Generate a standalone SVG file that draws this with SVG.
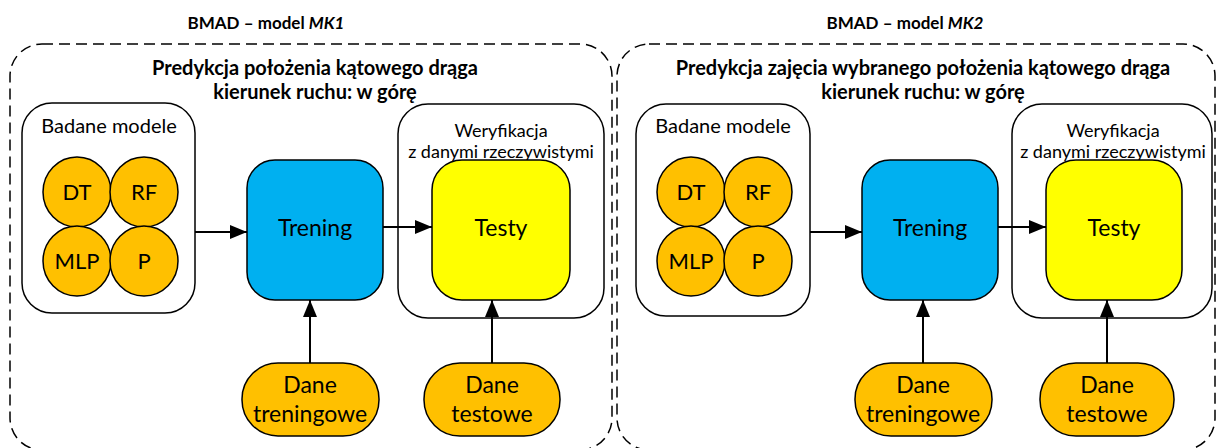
<svg xmlns="http://www.w3.org/2000/svg" width="1219" height="448" viewBox="0 0 1219 448">
  <defs>
    <marker id="arrow" markerWidth="17" markerHeight="14" refX="17" refY="7" orient="auto" markerUnits="userSpaceOnUse">
      <path d="M0,0 L17,7 L0,14 Z" fill="#000"/>
    </marker>
    <style>
      text { font-family: Lato, "Open Sans", "Liberation Sans", sans-serif; fill: #000; text-anchor: middle; }
      .title { font-size: 17px; font-weight: bold; }
      .head { font-size: 20px; font-weight: bold; }
      .lbl { font-size: 20px; }
      .circ { font-size: 22px; }
      .small { font-size: 18px; }
      .big { font-size: 23px; }
      .panel { fill: none; stroke: #000; stroke-width: 1.5; stroke-dasharray: 11 6; }
      .group { fill: #fff; stroke: #000; stroke-width: 1.5; }
      .model { fill: #FFC000; stroke: #000; stroke-width: 1.5; }
      .train { fill: #00B0F0; stroke: #000; stroke-width: 1.5; }
      .test { fill: #FFFF00; stroke: #000; stroke-width: 1.5; }
      .data { fill: #FFC000; stroke: #000; stroke-width: 1.5; }
      .conn { stroke: #000; stroke-width: 2; fill: none; marker-end: url(#arrow); }
    </style>
  </defs>
  <rect width="1219" height="448" fill="#fff"/>

  <!-- panel MK1 -->
  <g id="panel-mk1">
    <text class="title" x="266" y="29">BMAD – model <tspan font-style="italic">MK1</tspan></text>
    <rect class="panel" x="10" y="44" width="602" height="406" rx="32"/>
    <text class="head" x="315" y="75">Predykcja położenia kątowego drąga</text>
    <text class="head" x="315" y="99">kierunek ruchu: w górę</text>
  </g>

  <!-- panel MK2 -->
  <g id="panel-mk2">
    <text class="title" x="905" y="29">BMAD – model <tspan font-style="italic">MK2</tspan></text>
    <rect class="panel" x="617" y="44" width="598" height="406" rx="32"/>
    <text class="head" x="923" y="75">Predykcja zajęcia wybranego położenia kątowego drąga</text>
    <text class="head" x="923" y="99">kierunek ruchu: w górę</text>
  </g>

  <!-- MK1 nodes -->
  <g id="models-1">
    <rect class="group" x="22" y="103" width="173" height="210" rx="30"/>
    <text class="lbl" x="109" y="133">Badane modele</text>
    <ellipse class="model" cx="77" cy="192" rx="34" ry="35"/>
    <ellipse class="model" cx="144" cy="192" rx="34" ry="35"/>
    <ellipse class="model" cx="77" cy="261" rx="34" ry="35"/>
    <ellipse class="model" cx="144" cy="261" rx="34" ry="35"/>
    <text class="circ" x="77" y="200">DT</text>
    <text class="circ" x="144" y="200">RF</text>
    <text class="circ" x="77" y="269">MLP</text>
    <text class="circ" x="144" y="269">P</text>
  </g>
  <g id="training-1">
    <rect class="train" x="247" y="160" width="136" height="140" rx="28"/>
    <text class="big" x="315" y="236">Trening</text>
  </g>
  <g id="verification-1">
    <rect class="group" x="398" y="104" width="206" height="214" rx="30"/>
    <text class="small" x="501" y="137">Weryfikacja</text>
    <text class="small" x="501" y="158">z danymi rzeczywistymi</text>
  </g>
  <g id="tests-1">
    <rect class="test" x="432" y="160" width="138" height="140" rx="30"/>
    <text class="big" x="501" y="236">Testy</text>
  </g>
  <g id="train-data-1">
    <rect class="data" x="242" y="363" width="137" height="73" rx="36"/>
    <text class="big" x="310" y="393">Dane</text>
    <text class="big" x="310" y="422">treningowe</text>
  </g>
  <g id="test-data-1">
    <rect class="data" x="424" y="363" width="136" height="73" rx="36"/>
    <text class="big" x="492" y="393">Dane</text>
    <text class="big" x="492" y="422">testowe</text>
  </g>

  <!-- MK2 nodes -->
  <g id="models-2">
    <rect class="group" x="636" y="104" width="174" height="212" rx="30"/>
    <text class="lbl" x="723" y="133">Badane modele</text>
    <ellipse class="model" cx="691" cy="192" rx="34" ry="35"/>
    <ellipse class="model" cx="758" cy="192" rx="34" ry="35"/>
    <ellipse class="model" cx="691" cy="261" rx="34" ry="35"/>
    <ellipse class="model" cx="758" cy="261" rx="34" ry="35"/>
    <text class="circ" x="691" y="200">DT</text>
    <text class="circ" x="758" y="200">RF</text>
    <text class="circ" x="691" y="269">MLP</text>
    <text class="circ" x="758" y="269">P</text>
  </g>
  <g id="training-2">
    <rect class="train" x="862" y="160" width="136" height="140" rx="28"/>
    <text class="big" x="930" y="236">Trening</text>
  </g>
  <g id="verification-2">
    <rect class="group" x="1012" y="104" width="200" height="214" rx="30"/>
    <text class="small" x="1113" y="137">Weryfikacja</text>
    <text class="small" x="1113" y="158">z danymi rzeczywistymi</text>
  </g>
  <g id="tests-2">
    <rect class="test" x="1046" y="160" width="136" height="140" rx="30"/>
    <text class="big" x="1114" y="236">Testy</text>
  </g>
  <g id="train-data-2">
    <rect class="data" x="855" y="363" width="137" height="73" rx="36"/>
    <text class="big" x="923" y="393">Dane</text>
    <text class="big" x="923" y="422">treningowe</text>
  </g>
  <g id="test-data-2">
    <rect class="data" x="1040" y="363" width="134" height="73" rx="36"/>
    <text class="big" x="1107" y="393">Dane</text>
    <text class="big" x="1107" y="422">testowe</text>
  </g>

  <!-- connectors -->
  <g id="connectors">
    <line class="conn" x1="195" y1="232" x2="247" y2="232"/>
    <line class="conn" x1="383" y1="227" x2="432" y2="227"/>
    <line class="conn" x1="310" y1="363" x2="310" y2="300"/>
    <line class="conn" x1="492" y1="363" x2="492" y2="300"/>
    <line class="conn" x1="810" y1="232" x2="862" y2="232"/>
    <line class="conn" x1="998" y1="227" x2="1046" y2="227"/>
    <line class="conn" x1="923" y1="363" x2="923" y2="300"/>
    <line class="conn" x1="1107" y1="363" x2="1107" y2="300"/>
  </g>
</svg>
